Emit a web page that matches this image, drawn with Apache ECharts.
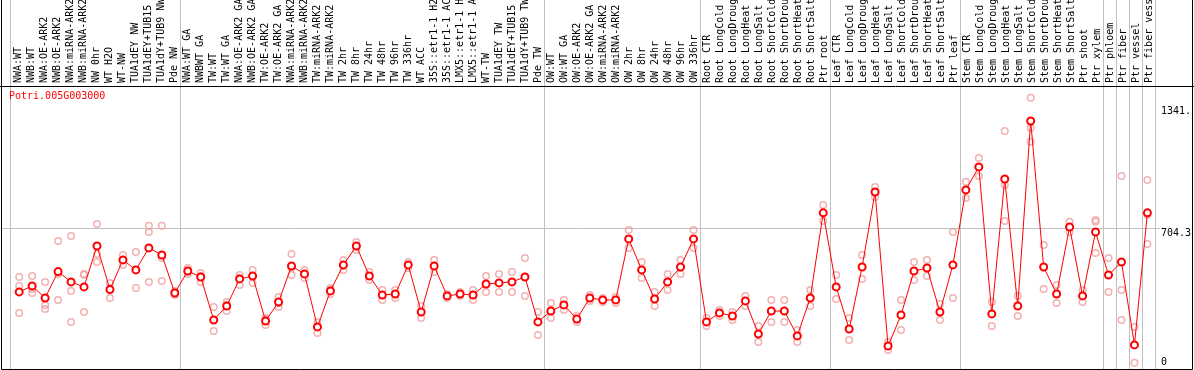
<!DOCTYPE html>
<html>
<head>
<meta charset="utf-8">
<script src="https://cdn.jsdelivr.net/npm/echarts@6/dist/echarts.min.js"></script>
<style>
html, body { margin: 0; padding: 0; background: #fff; }
#chart { width: 1194px; height: 370px; }
</style>
</head>
<body>
<div id="chart"></div>
<script>
const geneName = 'Potri.005G003000'
const categories = [
    'NWA:WT', 'NWB:WT', 'NWA:OE-ARK2', 'NWB:OE-ARK2', 'NWA:miRNA-ARK2', 'NWB:miRNA-ARK2',
    'NW 0hr', 'WT H2O', 'WT-NW', 'TUA1dEY NW', 'TUA1dEY+TUB15 NW', 'TUA1dY+TUB9 NW', 'Pde NW',
    'NWA:WT GA', 'NWBWT GA', 'TW:WT', 'TW:WT GA', 'NWA:OE-ARK2 GA', 'NWB:OE-ARK2 GA',
    'TW:OE-ARK2', 'TW:OE-ARK2 GA', 'NWA:miRNA-ARK2 GA', 'NWB:miRNA-ARK2 GA', 'TW:miRNA-ARK2',
    'TW:miRNA-ARK2 GA', 'TW 2hr', 'TW 8hr', 'TW 24hr', 'TW 48hr', 'TW 96hr', 'TW 336hr',
    'WT ACC', '35S::etr1-1 H2O', '35S::etr1-1 ACC', 'LMX5::etr1-1 H2O', 'LMX5::etr1-1 ACC',
    'WT-TW', 'TUA1dEY TW', 'TUA1dEY+TUB15 TW', 'TUA1dY+TUB9 TW', 'Pde TW',
    'OW:WT', 'OW:WT GA', 'OW:OE-ARK2', 'OW:OE-ARK2 GA', 'OW:miRNA-ARK2', 'OW:miRNA-ARK2 GA',
    'OW 2hr', 'OW 8hr', 'OW 24hr', 'OW 48hr', 'OW 96hr', 'OW 336hr',
    'Root CTR', 'Root LongCold', 'Root LongDrought', 'Root LongHeat', 'Root LongSalt',
    'Root ShortCold', 'Root ShortDrought', 'Root ShortHeat', 'Root ShortSalt', 'Ptr root',
    'Leaf CTR', 'Leaf LongCold', 'Leaf LongDrought', 'Leaf LongHeat', 'Leaf LongSalt',
    'Leaf ShortCold', 'Leaf ShortDrought', 'Leaf ShortHeat', 'Leaf ShortSalt', 'Ptr leaf',
    'Stem CTR', 'Stem LongCold', 'Stem LongDrought', 'Stem LongHeat', 'Stem LongSalt',
    'Stem ShortCold', 'Stem ShortDrought', 'Stem ShortHeat', 'Stem ShortSalt', 'Ptr shoot',
    'Ptr xylem', 'Ptr phloem', 'Ptr fiber', 'Ptr vessel', 'Ptr fiber vessel'
]
// mean expression per sample
const meanValues = [
    370, 401, 338, 476, 422, 396, 610, 382, 537, 485, 600, 563, 364,
    479, 448, 223, 296, 438, 453, 218, 317, 505, 464, 187, 375, 511, 610, 453, 354, 359, 511,
    265, 505, 349, 359, 354, 411, 417, 422, 448, 213,
    270, 302, 228, 338, 328, 328, 647, 485, 333, 422, 500, 647,
    213, 260, 244, 323, 150, 270, 270, 140, 338, 783,
    396, 176, 500, 892, 87, 249, 479, 495, 265, 511,
    903, 1023, 255, 960, 296, 1263, 500, 359, 709, 349,
    683, 458, 526, 93, 783
]
// replicates
const rep1 = [
    448, 453, 422, 636, 662, 464, 725, 417, 563, 579, 715, 715, 375,
    495, 469, 291, 317, 458, 485, 234, 343, 568, 485, 213, 390, 537, 631, 474, 380, 380, 526,
    296, 537, 359, 370, 380, 453, 464, 474, 547, 265,
    312, 328, 244, 354, 338, 343, 694, 526, 370, 464, 537, 694,
    234, 275, 265, 349, 192, 328, 328, 171, 380, 824,
    458, 234, 563, 918, 108, 328, 526, 537, 307, 683,
    945, 1070, 317, 1211, 349, 1384, 615, 406, 736, 380,
    746, 547, 976, 187, 955
]
const rep2 = [
    401, 385, 302, 464, 375, 459, 568, 390, 537, 485, 683, 547, 364,
    479, 453, 223, 302, 443, 453, 223, 312, 495, 464, 187, 380, 505, 610, 453, 354, 359, 511,
    265, 505, 349, 359, 354, 411, 417, 422, 448, 213,
    270, 302, 228, 338, 328, 328, 647, 485, 333, 422, 500, 647,
    213, 260, 244, 323, 150, 270, 270, 140, 338, 783,
    396, 176, 500, 892, 87, 249, 479, 495, 265, 511,
    903, 1023, 255, 929, 296, 1227, 500, 359, 709, 349,
    736, 458, 380, 93, 772
]
const rep3 = [
    260, 364, 281, 328, 213, 265, 526, 338, 511, 390, 422, 427, 354,
    464, 422, 166, 270, 406, 417, 197, 291, 458, 443, 155, 359, 485, 589, 432, 328, 338, 495,
    234, 474, 338, 349, 328, 370, 370, 370, 349, 145,
    234, 275, 213, 323, 317, 312, 599, 443, 296, 380, 464, 599,
    192, 244, 223, 296, 108, 213, 213, 108, 296, 741,
    333, 118, 437, 866, 66, 171, 432, 453, 223, 338,
    861, 976, 192, 741, 244, 1154, 385, 312, 683, 317,
    573, 370, 223, 0, 620
]
const tickValues = [0, 704.3, 1341]
const tickLabels = ['0', '704.3', '1341.']

const font = "'DejaVu Sans Mono', monospace"
const groupStarts = [0, 13, 41, 53, 63, 73, 84, 85, 86, 87]
const splitColor = '#c0c0c0'
const yMin = -33
const yMax = 1446

const repData = []
;[rep1, rep2, rep3].forEach(function (rep) {
    rep.forEach(function (v, i) {
        repData.push([i, v])
    })
})

const chart = echarts.init(document.getElementById('chart'), null, { renderer: 'canvas' })
const option = {
    animation: false,
    backgroundColor: '#fff',
    title: {
        text: geneName,
        left: 9,
        top: 91,
        padding: 0,
        textStyle: { color: '#ff0000', fontSize: 10, fontFamily: font, fontWeight: 'normal' }
    },
    grid: [
        // vertical group lines, full height
        { left: 10.7, right: 38.7, top: 0, bottom: 1 },
        // header labels
        { left: 11.5, right: 37.9, top: 0, height: 86 },
        // plot
        { left: 12.7, right: 36.7, top: 86, bottom: 1 },
        // horizontal reference line
        { left: 1.5, right: 34, top: 86, bottom: 1 }
    ],
    graphic: [
        {
            type: 'rect',
            shape: { x: 1.5, y: -5, width: 1191, height: 374.5 },
            style: { fill: null, stroke: '#000', lineWidth: 1 },
            silent: true, z: 100
        },
        {
            type: 'line',
            shape: { x1: 0, y1: 86.5, x2: 1194, y2: 86.5 },
            style: { stroke: '#000', lineWidth: 1 },
            silent: true, z: 100
        }
    ],
    xAxis: [
        {
            gridIndex: 0, type: 'category', data: categories,
            axisLine: { show: false }, axisTick: { show: false }, axisLabel: { show: false },
            splitLine: {
                show: true,
                interval: function (i) { return groupStarts.indexOf(i) >= 0 },
                lineStyle: { color: splitColor, width: 1 }
            }
        },
        {
            gridIndex: 1, type: 'category', data: categories, position: 'bottom',
            axisLine: { show: false }, axisTick: { show: false }, splitLine: { show: false },
            axisLabel: {
                inside: true, rotate: 90, interval: 0, margin: 3,
                fontFamily: font, fontSize: 10, color: '#000'
            }
        },
        {
            gridIndex: 2, type: 'category', data: categories,
            axisLine: { show: false }, axisTick: { show: false }, axisLabel: { show: false },
            splitLine: { show: false }
        },
        {
            gridIndex: 3, type: 'value', show: false
        }
    ],
    yAxis: [
        { gridIndex: 0, type: 'value', show: false },
        { gridIndex: 1, type: 'value', show: false },
        {
            gridIndex: 2, type: 'value', position: 'right', min: yMin, max: yMax,
            axisLine: { show: false }, axisTick: { show: false }, splitLine: { show: false },
            axisLabel: {
                customValues: tickValues,
                margin: 7,
                verticalAlign: 'middle',
                fontFamily: font, fontSize: 10, color: '#000',
                formatter: function (v) {
                    const label = tickLabels[tickValues.indexOf(v)]
                    return v === 0 ? '{z|' + label + '}' : '{v|' + label + '}'
                },
                rich: {
                    v: { fontFamily: font, fontSize: 10, color: '#000', padding: [11, 0, 0, 0] },
                    z: { fontFamily: font, fontSize: 10, color: '#000', padding: [0, 0, 0, 0] }
                }
            }
        },
        {
            gridIndex: 3, type: 'value', min: yMin, max: yMax,
            axisLine: { show: false }, axisLabel: { show: false },
            axisTick: { show: false, customValues: [tickValues[1]] },
            splitLine: { show: true, lineStyle: { color: splitColor, width: 1 } }
        }
    ],
    series: [
        {
            name: 'replicates',
            type: 'scatter',
            xAxisIndex: 2, yAxisIndex: 2,
            data: repData,
            symbol: 'circle',
            symbolSize: 6.5,
            silent: true,
            z: 2,
            itemStyle: { color: 'rgba(0,0,0,0)', borderColor: '#f09c9c', borderWidth: 1.5 }
        },
        {
            name: geneName,
            type: 'line',
            xAxisIndex: 2, yAxisIndex: 2,
            data: meanValues,
            symbol: 'emptyCircle',
            symbolSize: 7,
            silent: true,
            z: 3,
            lineStyle: { color: '#ff0000', width: 1 },
            itemStyle: { color: '#ff0000', borderWidth: 2 }
        }
    ]
}
chart.setOption(option)
</script>
</body>
</html>
